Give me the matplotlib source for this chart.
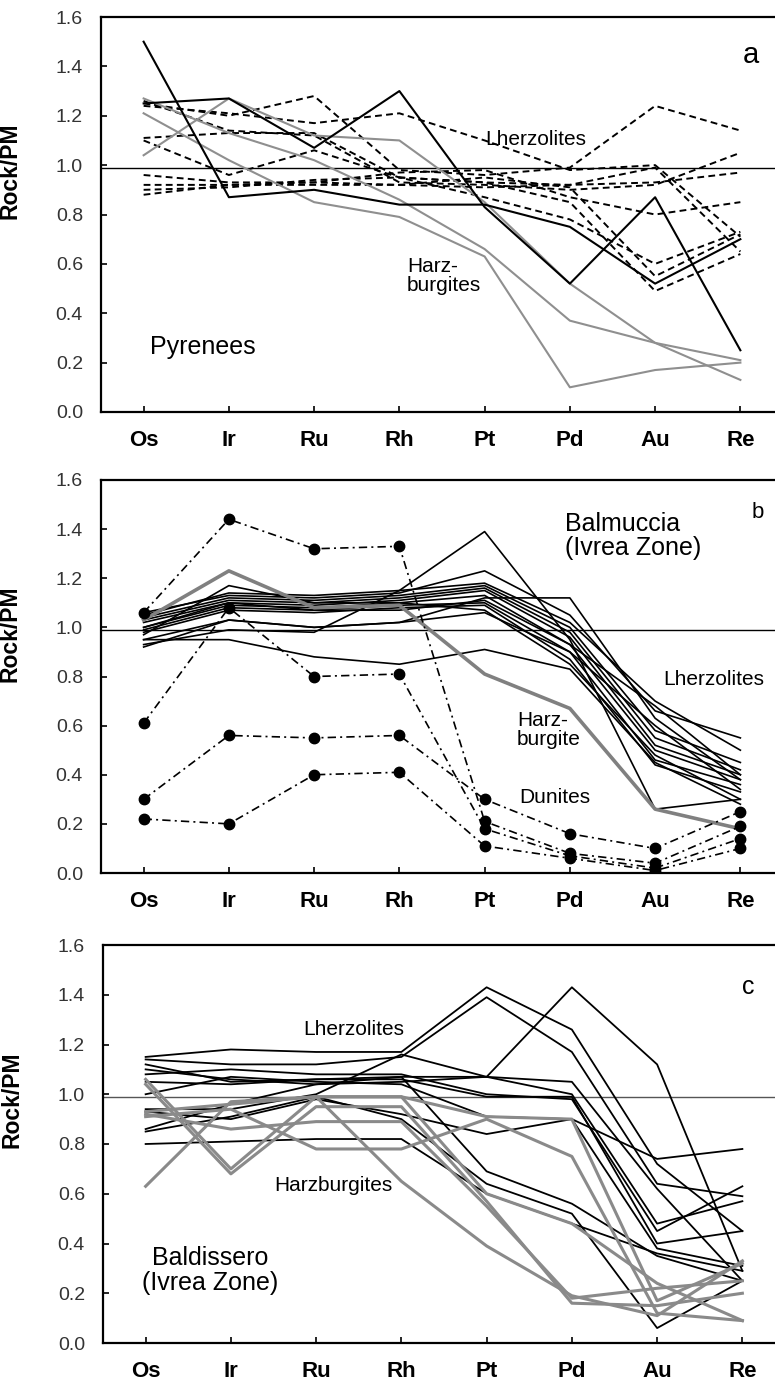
import matplotlib
matplotlib.use("Agg")
import matplotlib.pyplot as plt

plt.rcParams['font.family'] = ['Liberation Sans', 'DejaVu Sans']

elements = ["Os", "Ir", "Ru", "Rh", "Pt", "Pd", "Au", "Re"]
y_ticks = [0.0, 0.2, 0.4, 0.6, 0.8, 1.0, 1.2, 1.4, 1.6]
y_ticklabels = ["0.0", "0.2", "0.4", "0.6", "0.8", "1.0", "1.2", "1.4", "1.6"]

# ---------- panel a : Pyrenees ----------
a_harz_black = [
    [1.50, 0.87, 0.90, 0.84, 0.84, 0.75, 0.52, 0.70],
    [1.25, 1.27, 1.07, 1.30, 0.83, 0.52, 0.87, 0.25],
]
a_harz_gray = [
    [1.04, 1.27, 1.12, 1.10, 0.85, 0.52, 0.28, 0.13],
    [1.21, 1.02, 0.85, 0.79, 0.63, 0.10, 0.17, 0.20],
    [1.27, 1.13, 1.02, 0.86, 0.66, 0.37, 0.28, 0.21],
]
a_lherz = [
    [1.25, 1.20, 1.28, 0.98, 0.96, 0.99, 1.24, 1.14],
    [1.24, 1.21, 1.17, 1.21, 1.10, 0.98, 1.00, 0.71],
    [1.26, 1.14, 1.12, 0.93, 0.92, 0.90, 0.92, 1.05],
    [1.11, 1.13, 1.13, 0.95, 0.93, 0.92, 0.93, 0.97],
    [1.10, 0.96, 1.06, 0.95, 0.87, 0.78, 0.60, 0.73],
    [0.96, 0.93, 0.93, 0.97, 0.98, 0.87, 0.80, 0.85],
    [0.92, 0.92, 0.93, 0.92, 0.91, 0.92, 0.99, 0.65],
    [0.90, 0.91, 0.94, 0.95, 0.93, 0.85, 0.49, 0.64],
    [0.88, 0.92, 0.92, 0.92, 0.95, 0.91, 0.55, 0.72],
]

# ---------- panel b : Balmuccia ----------
b_lherz = [
    [1.06, 1.13, 1.12, 1.14, 1.23, 1.05, 0.66, 0.55],
    [1.05, 1.14, 1.13, 1.15, 1.18, 1.02, 0.70, 0.50],
    [1.04, 1.12, 1.11, 1.13, 1.17, 1.00, 0.58, 0.45],
    [1.03, 1.11, 1.10, 1.12, 1.16, 0.98, 0.55, 0.42],
    [1.02, 1.10, 1.09, 1.11, 1.15, 0.96, 0.52, 0.40],
    [1.00, 1.09, 1.08, 1.10, 1.13, 0.93, 0.50, 0.38],
    [0.99, 1.08, 1.07, 1.09, 1.10, 0.90, 0.46, 0.36],
    [0.98, 1.07, 1.06, 1.08, 1.09, 0.87, 0.44, 0.33],
    [0.97, 1.17, 1.10, 1.10, 1.07, 0.85, 0.48, 0.30],
    [0.95, 1.03, 1.00, 1.02, 1.12, 1.12, 0.63, 0.38],
    [0.93, 0.99, 0.98, 1.15, 1.39, 0.95, 0.26, 0.30],
    [0.92, 1.03, 1.00, 1.02, 1.06, 0.90, 0.60, 0.34],
    [0.95, 0.95, 0.88, 0.85, 0.91, 0.83, 0.45, 0.28],
    [1.00, 1.10, 1.07, 1.07, 1.11, 0.93, 0.68, 0.40],
]
b_harz = [1.03, 1.23, 1.08, 1.09, 0.81, 0.67, 0.26, 0.18]
b_dunites = [
    [1.06, 1.44, 1.32, 1.33, 0.21, 0.08, 0.04, 0.19],
    [0.61, 1.08, 0.80, 0.81, 0.18, 0.07, 0.02, 0.14],
    [0.30, 0.56, 0.55, 0.56, 0.30, 0.16, 0.10, 0.25],
    [0.22, 0.20, 0.40, 0.41, 0.11, 0.06, 0.01, 0.10],
]

# ---------- panel c : Baldissero ----------
c_lherz = [
    [1.15, 1.18, 1.17, 1.17, 1.43, 1.26, 0.72, 0.45],
    [1.14, 1.12, 1.12, 1.15, 1.39, 1.17, 0.64, 0.59],
    [1.12, 1.05, 1.06, 1.07, 1.07, 1.43, 1.12, 0.29],
    [1.10, 1.06, 1.04, 1.05, 1.07, 1.00, 0.48, 0.57],
    [1.08, 1.10, 1.08, 1.08, 1.00, 0.98, 0.45, 0.63],
    [1.05, 1.04, 1.06, 1.06, 0.99, 0.99, 0.40, 0.45],
    [1.00, 1.07, 1.05, 1.04, 0.91, 0.90, 0.74, 0.78],
    [0.94, 0.94, 1.00, 1.16, 1.07, 1.05, 0.62, 0.25],
    [0.93, 0.90, 0.98, 0.92, 0.84, 0.90, 0.38, 0.31],
    [0.86, 0.96, 1.04, 1.07, 0.69, 0.56, 0.35, 0.25],
    [0.85, 0.91, 0.99, 0.90, 0.64, 0.52, 0.06, 0.25],
    [0.80, 0.81, 0.82, 0.82, 0.60, 0.48, 0.36, 0.29],
]
c_harz = [
    [0.63, 0.97, 0.99, 0.99, 0.60, 0.48, 0.24, 0.09],
    [1.06, 0.70, 0.99, 0.65, 0.39, 0.19, 0.11, 0.33],
    [1.04, 0.68, 0.95, 0.95, 0.57, 0.16, 0.15, 0.20],
    [0.92, 0.86, 0.89, 0.89, 0.55, 0.18, 0.22, 0.25],
    [0.91, 0.94, 0.78, 0.78, 0.90, 0.75, 0.12, 0.09],
    [0.93, 0.96, 0.99, 0.99, 0.91, 0.90, 0.17, 0.32],
]

W, H = 775, 1387
fig = plt.figure(figsize=(W / 100, H / 100), dpi=100)


def make_axes(left_px, top_px, bottom_px):
    right_px = left_px + 682
    return fig.add_axes([left_px / W, 1 - bottom_px / H,
                         (right_px - left_px) / W, (bottom_px - top_px) / H])


def style(ax, ref_color="black"):
    x = list(range(len(elements)))
    ax.set_xlim(-0.5, 7.5)
    ax.set_ylim(0, 1.6)
    ax.set_xticks(x)
    ax.set_xticklabels(elements, fontsize=16, fontweight="bold")
    ax.set_yticks(y_ticks)
    ax.set_yticklabels(y_ticklabels, fontsize=14, color="#333333")
    ax.tick_params(axis="x", direction="in", length=4, width=1.2, pad=13)
    ax.tick_params(axis="y", direction="in", length=4, width=1.2, pad=13)
    for s in ["left", "bottom", "top"]:
        ax.spines[s].set_linewidth(1.6)
    ax.spines["right"].set_visible(False)
    ax.axhline(0.99, color=ref_color, lw=1.0, zorder=1)
    ax.set_ylabel("Rock/PM", fontsize=16.5, fontweight="bold")
    ax.yaxis.set_label_coords(-0.116, 0.61)
    return x


# panel a
ax = make_axes(101, 17, 412)
x = style(ax)
for row in a_lherz:
    ax.plot(x, row, color="black", lw=1.4, dashes=(3.5, 2.2))
for row in a_harz_gray:
    ax.plot(x, row, color="#8f8f8f", lw=1.5)
for row in a_harz_black:
    ax.plot(x, row, color="black", lw=1.5)
ax.text(4.6, 1.105, "Lherzolites", fontsize=15, ha="center", va="center")
ax.text(3.09, 0.55, "Harz-\nburgites", fontsize=15, ha="left", va="center", linespacing=1.0)
ax.text(0.08, 0.263, "Pyrenees", fontsize=18, ha="left", va="center")
ax.text(7.12, 1.446, "a", fontsize=21, ha="center", va="center")

# panel b
ax = make_axes(101, 480, 873)
x = style(ax)
for row in b_lherz:
    ax.plot(x, row, color="black", lw=1.2)
ax.plot(x, b_harz, color="#808080", lw=2.6)
for row in b_dunites:
    ax.plot(x, row, color="black", lw=1.2, dashes=(5, 2.5, 1.2, 2.5),
            marker="o", markersize=7.5, markerfacecolor="black")
ax.text(4.94, 1.372, "Balmuccia\n(Ivrea Zone)", fontsize=18, ha="left", va="center", linespacing=1.05)
ax.text(7.2, 1.466, "b", fontsize=16, ha="center", va="center")
ax.text(6.10, 0.786, "Lherzolites", fontsize=15, ha="left", va="center")
ax.text(4.38, 0.582, "Harz-\nburgite", fontsize=15, ha="left", va="center", linespacing=1.0)
ax.text(4.41, 0.309, "Dunites", fontsize=15, ha="left", va="center")

# panel c
ax = make_axes(103, 945, 1343)
x = style(ax, ref_color="#555555")
for row in c_lherz:
    ax.plot(x, row, color="black", lw=1.3)
for row in c_harz:
    ax.plot(x, row, color="#8a8a8a", lw=2.2)
ax.text(1.85, 1.262, "Lherzolites", fontsize=15, ha="left", va="center")
ax.text(1.51, 0.635, "Harzburgites", fontsize=15, ha="left", va="center")
ax.text(0.76, 0.29, "Baldissero\n(Ivrea Zone)", fontsize=18, ha="center", va="center", linespacing=1.05)
ax.text(7.07, 1.43, "c", fontsize=18, ha="center", va="center")

fig.savefig("out.png", dpi=100)
